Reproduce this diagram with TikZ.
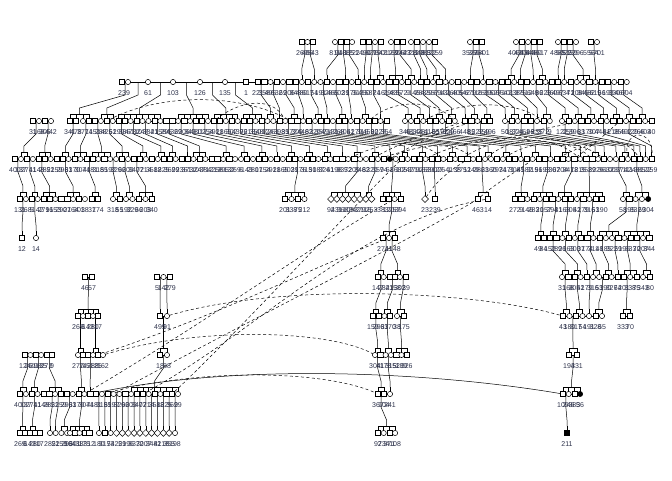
\documentclass[tikz,border=0pt]{standalone}
\usepackage{fontspec}
\setmainfont{Liberation Sans}
\usetikzlibrary{calc,shapes.geometric}
\pgfdeclarelayer{bg}
\pgfsetlayers{bg,main}
\definecolor{labc}{RGB}{45,50,75}
\tikzset{
  ind/.style={draw=black,line width=0.5pt,fill=white,inner sep=0pt,outer sep=0pt},
  m/.style={ind,rectangle,minimum size=5.2pt},
  f/.style={ind,circle,minimum size=5.2pt},
  u/.style={ind,diamond,minimum size=6.8pt},
  ma/.style={m,fill=black},
  fa/.style={f,fill=black},
  s0/.style=m, s1/.style=f, s2/.style=m, s3/.style=f,
  s4/.style=m, s5/.style=f, s6/.style=m,
  lbl/.style={font=\fontsize{7}{7}\selectfont,text=labc,inner sep=0pt},
  rel/.style={line width=0.5pt,draw=black},
  dup/.style={rel,dash pattern=on 3pt off 2.5pt},
}
% a run of individuals: prefix, first id, count, x0, dx, y, seed, style, label range
\newcommand\pgrow[9]{%
  \foreach \kk in {1,...,#3}{%
    \pgfmathtruncatemacro\ix{#2+\kk-1}%
    \pgfmathsetmacro\xx{#4+(\kk-1)*(#5)}%
    \pgfmathtruncatemacro\sx{mod(\ix*13+#7*7+floor(\ix/3)*5,7)}%
    \pgfmathtruncatemacro\lab{mod(\ix*137+#7*131,#9)+1}%
    \node[style/.expanded=#8] (#1\ix) at (\xx,#6) {};
    \node[lbl] (t#1\ix) at (\xx,#6+11) {\lab};
  }%
}
% one individual: name, style, x, y, label
\newcommand\pind[5]{%
  \node[#2] (#1) at (#3,#4) {};
  \node[lbl] (t#1) at (#3,#4+11) {#5};
}
% parents -> sibship: parent prefix, parent a, parent b, child prefix, first child, last child
\newcommand\pfam[6]{%
  \draw[rel] ($(#1#2)!.5!(#1#3)$) -- ++(0,13)
     -- ($(#4#5)!.5!(#4#6)+(0,-13)$) -- ++(0,6.2);
  \draw[rel] ([yshift=6.8pt]#4#5.center) -- ([yshift=6.8pt]#4#6.center);
  \foreach \chd in {#5,...,#6} {\draw[rel] (#4\chd.center) -- ++(0,-6.8);}
}
\begin{document}
\begin{tikzpicture}[x=1pt,y=-1pt]
\useasboundingbox (0,0) rectangle (672,480);

% ---------- generation 0 ----------
\pgrow{p0-}{1}{3}{302}{5.5}{42}{1}{s\sx}{6999}
\pgrow{p0-}{4}{4}{335}{5.7}{42}{2}{s\sx}{6999}
\pgrow{p0-}{8}{4}{363}{6}{42}{3}{s\sx}{6999}
\pgrow{p0-}{12}{3}{391}{6}{42}{4}{s\sx}{6999}
\pgrow{p0-}{15}{5}{411}{6}{42}{5}{s\sx}{6999}
\pgrow{p0-}{20}{3}{470}{6}{42}{6}{s\sx}{6999}
\pgrow{p0-}{23}{5}{516}{6}{42}{7}{s\sx}{6999}
\pgrow{p0-}{28}{4}{558}{6}{42}{8}{s\sx}{6999}
\pgrow{p0-}{32}{2}{591}{6}{42}{9}{s\sx}{6999}

% ---------- generation 1 ----------
\pind{p1-1}{m}{122}{82}{23}
\pind{p1-2}{f}{128}{82}{9}
\pind{p1-3}{f}{148}{82}{61}
\pind{p1-4}{f}{173}{82}{103}
\pind{p1-5}{f}{200}{82}{126}
\pind{p1-6}{f}{225}{82}{135}
\pind{p1-7}{m}{246}{82}{1}
\pgrow{p1-}{8}{60}{258}{6.25}{82}{4}{s\sx}{700}

% ---------- generation 2 ----------
\pgrow{p2-}{1}{4}{33}{6}{121}{3}{s\sx}{500}
\pgrow{p2-}{5}{2}{70}{6}{121}{5}{s\sx}{500}
\pgrow{p2-}{7}{52}{83}{5.95}{121}{7}{s\sx}{500}
\pgrow{p2-}{59}{2}{405}{6}{121}{2}{s\sx}{500}
\pgrow{p2-}{61}{7}{417}{6.3}{121}{6}{s\sx}{500}
\pgrow{p2-}{68}{5}{465}{6.25}{121}{1}{s\sx}{500}
\pgrow{p2-}{73}{8}{505}{6.4}{121}{8}{s\sx}{500}
\pgrow{p2-}{81}{15}{562}{6.4}{121}{4}{s\sx}{500}

% ---------- generation 3 ----------
\pgrow{p3-}{1}{63}{15}{5.95}{159}{2}{s\sx}{400}
\pind{p3-64}{fa}{389.85}{159}{61}
\pgrow{p3-}{65}{44}{395.8}{5.95}{159}{2}{s\sx}{400}

% ---------- generation 4 ----------
\pgrow{p4-}{1}{12}{20}{5.9}{199}{3}{s\sx}{400}
\pgrow{p4-}{13}{2}{92}{6}{199}{5}{m}{400}
\pgrow{p4-}{15}{7}{113}{6.5}{199}{2}{s\sx}{400}
\pgrow{p4-}{22}{4}{285}{6.5}{199}{6}{s\sx}{400}
\pgrow{p4-}{26}{8}{331}{5.8}{199}{1}{u}{400}
\pgrow{p4-}{34}{4}{383}{5.8}{199}{4}{s\sx}{400}
\pind{p4-38}{u}{425}{199}{23}
\pind{p4-39}{m}{435}{199}{239}
\pind{p4-40}{m}{478}{199}{463}
\pind{p4-41}{m}{488}{199}{14}
\pgrow{p4-}{42}{15}{515}{6.2}{199}{7}{s\sx}{400}
\pgrow{p4-}{57}{4}{623}{6.3}{199}{8}{s\sx}{400}
\pind{p4-61}{fa}{648.2}{199}{304}

% ---------- generation 5 ----------
\pind{p5-1}{m}{22}{238}{12}
\pind{p5-2}{f}{36}{238}{14}
\pgrow{p5-}{3}{3}{383}{6}{238}{2}{s\sx}{400}
\pind{p5-6}{m}{538}{238}{49}
\pind{p5-7}{m}{543.5}{238}{84}
\pgrow{p5-}{8}{17}{550}{6.2}{238}{5}{s\sx}{400}

% ---------- generation 6 ----------
\pind{p6-1}{m}{85}{277}{46}
\pind{p6-2}{m}{92}{277}{57}
\pgrow{p6-}{3}{3}{157}{6.5}{277}{3}{s\sx}{400}
\pgrow{p6-}{6}{4}{378}{5.7}{277}{4}{s\sx}{400}
\pgrow{p6-}{10}{2}{400}{6}{277}{1}{s\sx}{400}
\pgrow{p6-}{12}{13}{562}{6.2}{277}{6}{s\sx}{400}
\pgrow{p6-}{25}{2}{643}{7}{277}{7}{s\sx}{400}

% ---------- generation 7 ----------
\pgrow{p7-}{1}{5}{78}{5}{316}{1}{s\sx}{400}
\pind{p7-6}{m}{160}{316}{499}
\pind{p7-7}{f}{167}{316}{91}
\pgrow{p7-}{8}{4}{373}{5.7}{316}{2}{s\sx}{400}
\pgrow{p7-}{12}{2}{397}{7}{316}{3}{s\sx}{400}
\pgrow{p7-}{14}{7}{563}{6.5}{316}{4}{s\sx}{400}
\pgrow{p7-}{21}{2}{623}{7}{316}{5}{m}{400}

% ---------- generation 8 ----------
\pgrow{p8-}{1}{6}{25}{5.4}{355}{6}{s\sx}{400}
\pgrow{p8-}{7}{6}{78}{5}{355}{7}{s\sx}{400}
\pind{p8-13}{m}{160}{355}{18}
\pind{p8-14}{f}{167}{355}{88}
\pgrow{p8-}{15}{7}{375}{5.3}{355}{8}{s\sx}{400}
\pgrow{p8-}{22}{2}{569}{8}{355}{9}{m}{400}

% ---------- generation 9 ----------
\pgrow{p9-}{1}{28}{20}{5.85}{394}{2}{s\sx}{400}
\pgrow{p9-}{29}{3}{378}{6}{394}{3}{s\sx}{400}
\pgrow{p9-}{32}{3}{563}{5.7}{394}{4}{s\sx}{400}
\pind{p9-35}{fa}{580.1}{394}{56}

% ---------- generation 10 ----------
\pgrow{p10-}{1}{5}{20}{5}{433}{1}{m}{400}
\pgrow{p10-}{6}{4}{50}{5.7}{433}{2}{f}{400}
\pgrow{p10-}{10}{5}{70}{4.8}{433}{3}{s\sx}{400}
\pgrow{p10-}{15}{3}{98.98}{5.85}{433}{4}{s\sx}{400}
\pgrow{p10-}{18}{10}{116.53}{5.85}{433}{5}{u}{400}
\pind{p10-28}{f}{175.03}{433}{198}
\pgrow{p10-}{30}{4}{378}{5.7}{433}{6}{s\sx}{400}
\pind{p10-34}{ma}{567}{433}{211}

\begin{pgfonlayer}{bg}
% spouse lines
\foreach \ua/\ub in {p0-1/p0-3,p0-4/p0-7,p0-8/p0-11,p0-12/p0-14,p0-15/p0-19,
  p0-20/p0-22,p0-23/p0-27,p0-28/p0-31,p0-32/p0-33,
  p1-1/p1-67,
  p2-1/p2-4,p2-5/p2-6,p2-7/p2-58,p2-59/p2-60,p2-61/p2-67,p2-68/p2-72,p2-73/p2-80,p2-81/p2-95,
  p3-1/p3-108,
  p4-1/p4-12,p4-15/p4-21,p4-22/p4-25,p4-34/p4-37,p4-42/p4-56,p4-57/p4-61,
  p5-3/p5-5,p5-8/p5-24,
  p6-1/p6-2,p6-3/p6-5,p6-6/p6-9,p6-10/p6-11,p6-12/p6-24,p6-25/p6-26,
  p7-1/p7-2,p7-4/p7-5,p7-6/p7-7,p7-8/p7-11,p7-12/p7-13,p7-14/p7-20,p7-21/p7-22,
  p8-1/p8-6,p8-7/p8-12,p8-13/p8-14,p8-15/p8-21,p8-22/p8-23,
  p9-1/p9-28,p9-29/p9-31,p9-32/p9-35}
  {\draw[rel] (\ua.center) -- (\ub.center);}

% parent-child connectors
\foreach \ua/\ub/\va/\vb in {1/2/15/15,2/3/17/17,4/5/19/19,5/6/22/22,6/7/24/24,
  8/9/25/25,9/10/26/26,10/11/27/28,12/13/29/31,13/14/32/33,15/16/34/34,16/17/35/35,
  17/18/36/37,18/19/38/38,20/21/42/42,21/22/44/44,23/24/48/49,24/25/50/50,25/26/52/52,
  26/27/53/54,28/29/56/56,29/30/57/57,30/31/59/61,32/33/62/62}
  {\pfam{p0-}{\ua}{\ub}{p1-}{\va}{\vb}}

\foreach \ua/\ub/\va/\vb in {1/2/5/8,2/3/10/12,3/4/13/20,4/5/23/28,5/6/29/33,6/7/34/37,
  8/9/38/39,10/11/40/40,12/13/42/43,14/15/44/44,16/17/46/47,18/19/48/48,20/21/50/51,
  22/23/52/52,24/25/54/55,26/27/57/57,28/29/59/60,30/31/61/62,32/33/63/63,34/35/64/65,
  36/37/66/67,38/39/68/68,40/41/69/70,42/43/71/72,44/45/73/73,46/47/74/75,48/49/76/77,
  50/51/78/78,52/53/79/80,54/55/81/82,56/57/83/84,58/59/85/86,60/61/87/88,62/63/89/90,
  64/65/91/92,66/67/93/94}
  {\pfam{p1-}{\ua}{\ub}{p2-}{\va}{\vb}}

\foreach \ua/\ub/\va/\vb in {1/2/2/3,3/4/5/7,5/6/9/10,7/8/11/13,9/10/14/17,11/12/18/20,
  13/14/22/23,15/16/25/26,17/18/27/28,19/20/30/30,21/22/31/33,23/24/36/37,25/26/39/40,
  27/28/42/43,29/30/45/45,31/32/47/48,33/34/50/51,35/36/53/54,37/38/56/56,39/40/58/59,
  41/42/61/62,43/44/64/64,45/46/66/67,47/48/69/70,49/50/72/72,51/52/74/75,53/54/77/77,
  55/56/79/79,57/58/80/81,59/60/83/84,61/62/86/86,63/64/88/89,65/66/91/91,68/69/93/94,
  70/71/96/96,73/74/98/99,75/76/100/100,77/78/102/102,79/80/103/104,81/82/105/105,
  83/84/106/106,87/88/107/107,91/92/108/108}
  {\pfam{p2-}{\ua}{\ub}{p3-}{\va}{\vb}}

\foreach \ua/\ub/\va/\vb in {1/2/1/2,3/4/3/4,5/6/5/7,9/10/9/11,13/14/13/14,17/18/15/16,
  19/20/17/18,21/22/19/21,48/49/22/25,58/59/26/31,61/62/32/33,64/65/34/37,69/70/38/38,
  71/72/39/39,79/80/40/41,86/87/42/44,90/91/45/48,94/95/49/51,97/98/52/56,102/103/57/58,
  105/106/59/61}
  {\pfam{p3-}{\ua}{\ub}{p4-}{\va}{\vb}}

\foreach \ua/\ub/\va/\vb in {1/2/1/1,3/4/2/2,35/36/3/5,46/47/6/7,48/49/8/9,50/51/10/11,
  52/53/12/13,54/55/14/15,57/58/16/19,59/60/20/24}
  {\pfam{p4-}{\ua}{\ub}{p5-}{\va}{\vb}}

\foreach \ua/\ub/\va/\vb in {3/4/6/7,4/5/9/10,8/9/12/13,10/11/14/15,12/13/16/16,
  14/15/17/18,16/17/19/20,18/19/21/21,20/21/22/24,22/23/25/26}
  {\pfam{p5-}{\ua}{\ub}{p6-}{\va}{\vb}}

\foreach \ua/\ub/\va/\vb in {1/2/1/5,3/4/6/6,4/5/7/7,6/7/8/9,8/9/10/11,10/11/12/13,
  12/13/14/15,14/15/16/17,16/17/18/18,18/19/19/20,22/23/21/22}
  {\pfam{p6-}{\ua}{\ub}{p7-}{\va}{\vb}}

\foreach \ua/\ub/\va/\vb in {1/2/7/8,4/5/10/11,6/7/13/14,8/9/15/16,10/11/17/18,
  12/13/19/21,15/16/22/23}
  {\pfam{p7-}{\ua}{\ub}{p8-}{\va}{\vb}}

\foreach \ua/\ub/\va/\vb in {1/2/1/2,3/4/3/4,5/6/6/8,7/8/11/12,9/10/13/13,13/14/20/28,
  15/16/29/30,17/18/31/31,22/23/32/35}
  {\pfam{p8-}{\ua}{\ub}{p9-}{\va}{\vb}}

\foreach \ua/\ub/\va/\vb in {1/2/1/2,3/4/3/4,6/7/6/6,7/8/7/7,9/10/8/9,11/12/10/14,
  29/30/30/33,32/33/34/34}
  {\pfam{p9-}{\ua}{\ub}{p10-}{\va}{\vb}}
\foreach \ja in {14,...,27}{%
  \pgfmathtruncatemacro\jb{\ja+1}%
  \pfam{p9-}{\ja}{\jb}{p10-}{\jb}{\jb}}

% links between repeated individuals
\draw[dup] (p2-11) .. controls (160,93) and (240,93) .. (p2-42);
\draw[dup] (p2-29) .. controls (245,97) and (275,99) .. (p2-41);
\draw[dup] (p2-55) .. controls (395,98) and (435,100) .. (p2-67);
\draw[dup] (p2-62) .. controls (460,100) and (515,100) .. (p2-79);
\draw[dup] (p3-64) .. controls (420,140) and (465,120) .. (p2-72);
\draw[dup] (p3-61) .. controls (400,142) and (440,130) .. (p2-68);
\draw[dup] (p3-62) .. controls (420,146) and (450,138) .. (p3-78);
\draw[dup] (p3-70) .. controls (480,130) and (570,132) .. (p3-100);
\draw[dup] (p3-76) .. controls (490,140) and (540,128) .. (p2-85);
\draw[dup] (p3-80) .. controls (520,130) and (560,140) .. (p3-96);
\draw[dup] (p3-92) .. controls (595,138) and (625,135) .. (p3-106);
\draw[dup] (p3-104) .. controls (622,128) and (655,128) .. (p3-108);
\draw[dup] (p2-90) .. controls (600,140) and (585,150) .. (p3-95);
\draw[dup] (p3-83) .. controls (530,140) and (570,138) .. (p3-98);
\draw[dup] (p3-57) .. controls (385,140) and (420,138) .. (p3-73);
\draw[dup] (p4-38) .. controls (440,175) and (460,165) .. (p3-77);
\draw[dup] (p4-40) .. controls (500,180) and (520,170) .. (p3-88);

\draw[dup] (p7-7) .. controls (280,283) and (470,290) .. (p7-14);
\draw[dup] (p8-12) .. controls (200,326) and (330,330) .. (p8-15);
\draw[dup] (p9-15) .. controls (210,366) and (330,372) .. (p9-29);
\draw[rel] (p9-13) .. controls (230,364) and (420,370) .. (p9-32);
\draw[dup] (p9-12) .. controls (210,320) and (320,240) .. (p4-36);
\draw[dup] (p9-17) .. controls (250,320) and (410,240) .. (p4-40);
\draw[dup] (p8-11) .. controls (220,315) and (330,260) .. (p5-4);
\draw[dup] (p9-27) .. controls (250,320) and (330,230) .. (p3-66);
\draw[dup] (p9-22) .. controls (260,330) and (360,220) .. (p4-41);
\end{pgfonlayer}
\end{tikzpicture}
\end{document}
